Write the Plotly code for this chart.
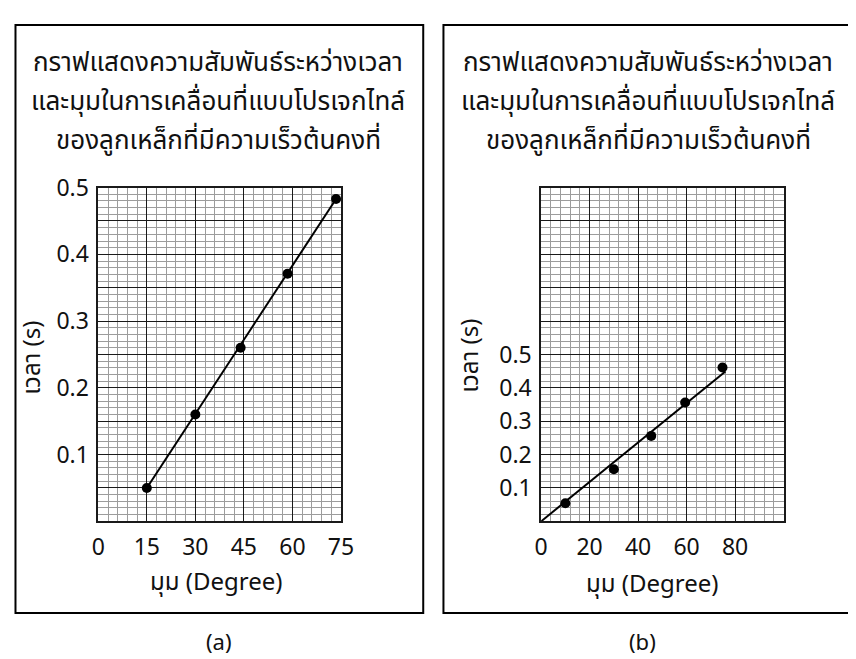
import plotly.graph_objects as go

# page has an 8px body margin; all positions below are given in screen pixels
OFF = 8
W, H = 856, 659

# ---- data ----
title_lines = [
    "กราฟแสดงความสัมพันธ์ระหว่างเวลา",
    "และมุมในการเคลื่อนที่แบบโปรเจกไทล์",
    "ของลูกเหล็กที่มีความเร็วต้นคงที่",
]
x_title = "มุม (Degree)"
y_title = "เวลา (s)"

angle_a = [15, 30, 44, 58.5, 73.5]
time_a = [0.05, 0.16, 0.26, 0.371, 0.483]
fit_a_x = [15, 73.5]
fit_a_y = [0.05, 0.483]

angle_b = [10, 30, 45.4, 59.4, 74.8]
time_b = [0.054, 0.156, 0.256, 0.356, 0.461]
fit_b_x = [0, 76]
fit_b_y = [0, 0.449]

xticks_a = [0, 15, 30, 45, 60, 75]
yticks_a = [0.05, 0.1, 0.15, 0.2, 0.25, 0.3, 0.35, 0.4, 0.45, 0.5]
ytext_a = ["", "0.1", "", "0.2", "", "0.3", "", "0.4", "", "0.5"]

xticks_b = [0, 20, 40, 60, 80, 100]
xtext_b = ["0", "20", "40", "60", "80", ""]
yticks_b = [0.1, 0.2, 0.3, 0.4, 0.5, 0.6, 0.7, 0.8, 0.9, 1.0]
ytext_b = ["0.1", "0.2", "0.3", "0.4", "0.5", "", "", "", "", ""]

FONT = "Noto Sans Thai, Tahoma, Noto Sans, DejaVu Sans, sans-serif"

def px(x):
    return (x - OFF) / W

def py(y):
    return 1 - (y - OFF) / H

fig = go.Figure()

for xs, ys, fx, fy, xa, ya in [
    (angle_a, time_a, fit_a_x, fit_a_y, "x", "y"),
    (angle_b, time_b, fit_b_x, fit_b_y, "x2", "y2"),
]:
    fig.add_trace(go.Scatter(x=fx, y=fy, mode="lines", line=dict(color="black", width=2),
                             xaxis=xa, yaxis=ya, showlegend=False, hoverinfo="skip",
                             cliponaxis=False))
    fig.add_trace(go.Scatter(x=xs, y=ys, mode="markers", marker=dict(color="black", size=10),
                             xaxis=xa, yaxis=ya, showlegend=False, cliponaxis=False))

major = "#1a1a1a"
minor_c = "#9c9c9c"
TICK = 23
common = dict(showline=True, mirror=True, linecolor=major, linewidth=1.5,
              gridcolor=major, gridwidth=1.3, zeroline=False, ticks="",
              tickfont=dict(family=FONT, size=TICK, color="#111"), fixedrange=True)

GX0, GX1 = 93.3, 341.7
HX0, HX1 = 546.7, 795
GY0, GY1 = 517.7, 175.7

fig.update_layout(
    width=W, height=H,
    margin=dict(l=0, r=0, t=0, b=0),
    paper_bgcolor="white", plot_bgcolor="white",
    font=dict(family=FONT, color="#111"),
    xaxis=dict(domain=[px(GX0), px(GX1)], range=[0, 75], tickmode="array",
               tickvals=xticks_a, ticklabelstandoff=4,
               minor=dict(dtick=3, tick0=0, showgrid=True, gridcolor=minor_c, gridwidth=1.2),
               anchor="y", **common),
    yaxis=dict(domain=[py(GY0), py(GY1)], range=[0, 0.5], tickmode="array",
               tickvals=yticks_a, ticktext=ytext_a, ticklabelstandoff=3,
               minor=dict(dtick=0.01, tick0=0, showgrid=True, gridcolor=minor_c, gridwidth=1.2),
               anchor="x", **common),
    xaxis2=dict(domain=[px(HX0), px(HX1)], range=[0, 100], tickmode="array",
                tickvals=xticks_b, ticktext=xtext_b, ticklabelstandoff=4,
                minor=dict(dtick=4, tick0=0, showgrid=True, gridcolor=minor_c, gridwidth=1.2),
                anchor="y2", **common),
    yaxis2=dict(domain=[py(GY0), py(GY1)], range=[0, 1.0], tickmode="array",
                tickvals=yticks_b, ticktext=ytext_b, ticklabelstandoff=3,
                minor=dict(dtick=0.02, tick0=0, showgrid=True, gridcolor=minor_c, gridwidth=1.2),
                anchor="x2", **common),
)

shapes = []
for x0, x1 in [(8.5, 426), (446.7, 880)]:
    shapes.append(dict(type="rect", xref="paper", yref="paper",
                       x0=px(x0), x1=px(x1), y0=py(611.7), y1=py(9),
                       line=dict(color="black", width=2), fillcolor="rgba(0,0,0,0)"))
fig.update_layout(shapes=shapes)

ann = []
def add(text, x, y, size=24, angle=0):
    ann.append(dict(text=text, x=px(x), y=py(y), xref="paper", yref="paper",
                    showarrow=False, xanchor="center", yanchor="middle",
                    textangle=angle, font=dict(family=FONT, size=size, color="#111")))

for cx in (216, 656.5):
    for i, line in enumerate(title_lines):
        add(line, cx, 48 + 40 * i, size=26)
add(x_title, 214, 581)
add(x_title, 660, 583)
add(y_title, 26.5, 350, angle=-90)
add(y_title, 475, 348, angle=-90)
add("(a)", 216.7, 643, size=22)
add("(b)", 651, 643, size=22)
fig.update_layout(annotations=ann)

fig.write_html("out.html")
